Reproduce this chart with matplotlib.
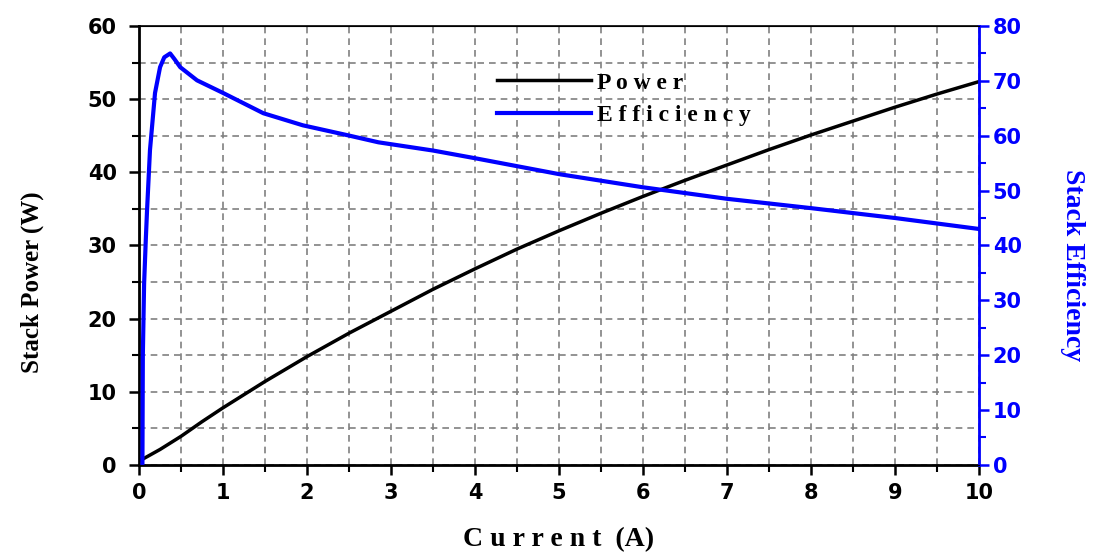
import matplotlib
matplotlib.use('Agg')
import matplotlib.pyplot as plt
from matplotlib.ticker import MultipleLocator

# Values
current_p = [0.0, 0.25, 0.5, 0.75, 1.0, 1.5, 2.0, 2.5, 3.0, 3.5, 4.0, 4.5, 5.0,
             5.5, 6.0, 6.5, 7.0, 7.5, 8.0, 8.5, 9.0, 9.5, 10.0]
power = [0.5, 2.1, 3.9, 5.9, 7.8, 11.4, 14.8, 18.0, 21.0, 24.0, 26.8, 29.5, 32.0,
         34.4, 36.7, 38.9, 41.0, 43.1, 45.1, 47.0, 48.9, 50.7, 52.4]

current_e = [0.04, 0.045, 0.06, 0.08, 0.095, 0.13, 0.19, 0.25, 0.3, 0.37, 0.42,
             0.49, 0.69, 1.0, 1.48, 1.95, 2.48, 2.85, 3.5, 4.0, 5.0, 6.0, 7.0,
             8.0, 9.0, 10.0]
efficiency = [0.0, 20.0, 33.0, 41.0, 46.4, 57.4, 67.8, 72.5, 74.3, 75.0, 74.0,
              72.5, 70.1, 67.8, 64.1, 61.9, 60.1, 58.8, 57.3, 55.9, 53.0, 50.6,
              48.5, 46.8, 45.0, 43.0]

blue = '#0000ff'
tick_font = {'family': 'DejaVu Sans', 'weight': 'bold', 'size': 15}

fig = plt.figure(figsize=(10.95, 5.54), dpi=100)
ax = fig.add_axes([0.127, 0.161, 0.767, 0.792])
ax2 = ax.twinx()

l1, = ax.plot(current_p, power, color='black', lw=2.5, label='Power')
l2, = ax2.plot(current_e, efficiency, color=blue, lw=3, label='Efficiency')

ax.set_xlim(0, 10)
ax.set_ylim(0, 60)
ax2.set_ylim(0, 80)

ax.xaxis.set_major_locator(MultipleLocator(1))
ax.xaxis.set_minor_locator(MultipleLocator(0.5))
ax.yaxis.set_major_locator(MultipleLocator(10))
ax.yaxis.set_minor_locator(MultipleLocator(5))
ax2.yaxis.set_major_locator(MultipleLocator(10))
ax2.yaxis.set_minor_locator(MultipleLocator(5))

ax.grid(True, which='both', color='#808080', linestyle=(0, (4, 3)), lw=1.2)
ax.set_axisbelow(True)

ax.tick_params(which='major', direction='out', length=7, width=1.8, pad=6)
ax.tick_params(which='minor', direction='out', length=5, width=1.5)
ax.tick_params(axis='y', which='major', pad=9)
ax2.tick_params(which='major', direction='out', length=7, width=1.8, colors=blue, pad=3)
ax2.tick_params(which='minor', direction='out', length=5, width=1.5, colors=blue)

for lbl in ax.get_xticklabels() + ax.get_yticklabels():
    lbl.set_fontproperties(tick_font)
for lbl in ax2.get_yticklabels():
    lbl.set_fontproperties(tick_font)
    lbl.set_color(blue)

for s in ['left', 'bottom']:
    ax.spines[s].set_linewidth(2)
ax2.spines['right'].set_color(blue)
ax2.spines['right'].set_linewidth(2)
ax2.spines['left'].set_visible(False)
ax.spines['top'].set_linewidth(1.2)

ax.set_xlabel('C u r r e n t  (A)', fontfamily='Liberation Serif', fontweight='bold',
              fontsize=20)
ax.set_ylabel('Stack Power (W)', fontfamily='Liberation Serif', fontweight='bold',
              fontsize=18)
ax2.set_ylabel('Stack Efficiency', fontfamily='Liberation Serif', fontweight='bold',
               fontsize=20, color=blue, rotation=270, va='center')
ax.xaxis.set_label_coords(0.5, -0.143)
ax.yaxis.set_label_coords(-0.113, 0.417)
ax2.yaxis.set_label_coords(1.111, 0.456)

ax2.legend([l1, l2], ['P o w e r', 'E f f i c i e n c y'], frameon=False,
           loc='upper left', bbox_to_anchor=(0.426, 0.895), handlelength=4.0,
           handletextpad=0.25, borderpad=0, borderaxespad=0, labelspacing=0.45,
           prop={'family': 'Liberation Serif', 'weight': 'bold', 'size': 17})

fig.savefig('out.png', dpi=100)
